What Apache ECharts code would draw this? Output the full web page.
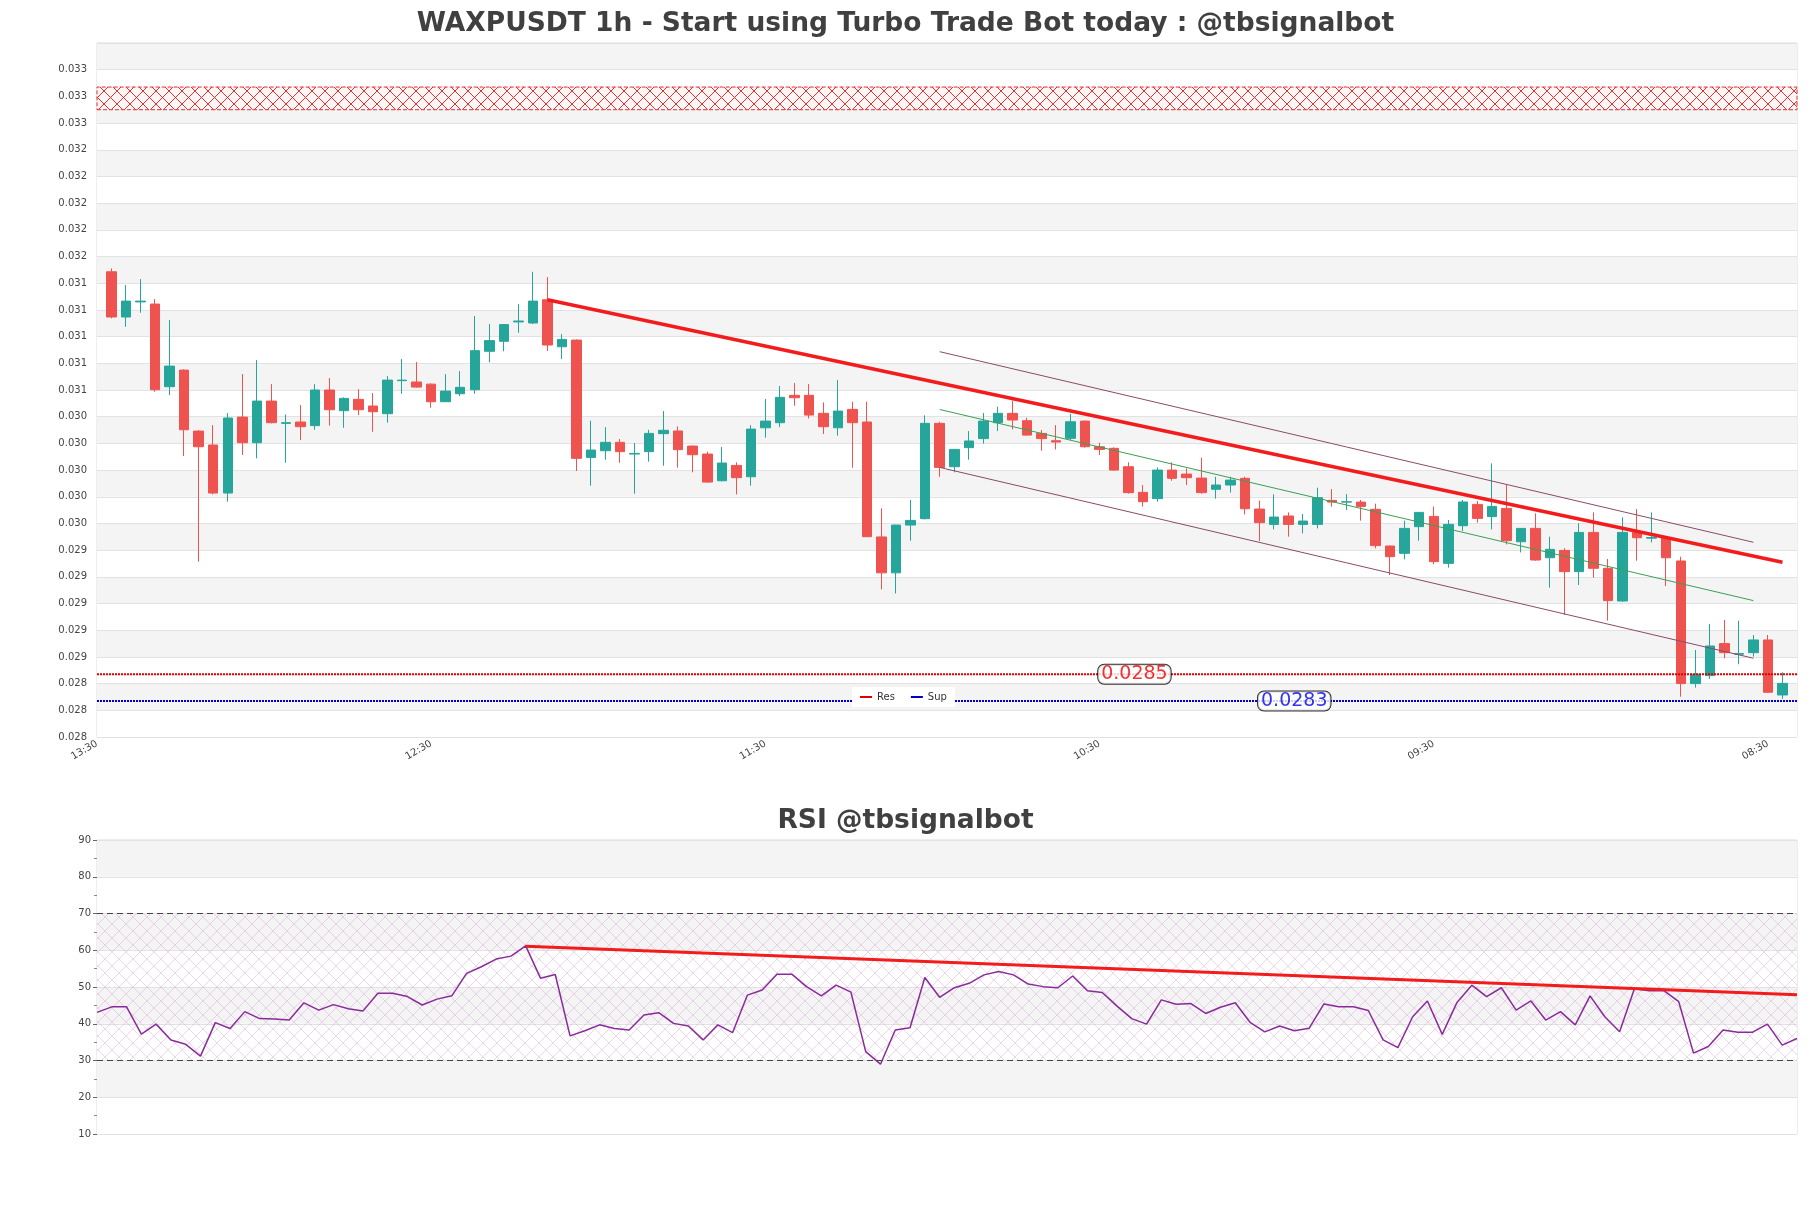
<!DOCTYPE html>
<html>
<head>
<meta charset="utf-8">
<script src="https://cdn.jsdelivr.net/npm/echarts@6/dist/echarts.min.js"></script>
<style>
html,body{margin:0;padding:0;background:#fff;}
#chart{width:1811px;height:1208px;}
</style>
</head>
<body>
<div id="chart"></div>
<script>
const mainTitle = 'WAXPUSDT 1h - Start using Turbo Trade Bot today : @tbsignalbot';
const rsiTitle = 'RSI @tbsignalbot';
const timeLabels = ['13:30', '12:30', '11:30', '10:30', '09:30', '08:30'];
const labelEvery = 23;

const opens = [0.031486,0.031147,0.031260,0.031244,0.030625,0.030749,0.030292,0.030188,0.029828,0.030397,
0.030205,0.030517,0.030350,0.030360,0.030333,0.030600,0.030445,0.030530,0.030480,0.030422,
0.030670,0.030660,0.030644,0.030512,0.030572,0.030602,0.030890,0.030965,0.031110,0.031102,
0.031276,0.030924,0.030974,0.030095,0.030145,0.030208,0.030120,0.030138,0.030273,0.030293,
0.030180,0.030120,0.029920,0.030035,0.029950,0.030317,0.030355,0.030560,0.030560,0.030425,
0.030317,0.030455,0.030360,0.029499,0.029230,0.029588,0.029636,0.030350,0.030025,0.030168,
0.030236,0.030355,0.030425,0.030370,0.030275,0.030220,0.030238,0.030367,0.030175,0.030163,
0.030025,0.029833,0.029786,0.030000,0.029970,0.029940,0.029856,0.029888,0.029938,0.029708,
0.029593,0.029656,0.029593,0.029593,0.029773,0.029760,0.029760,0.029706,0.029431,0.029376,
0.029576,0.029653,0.029301,0.029583,0.029743,0.029651,0.029713,0.029463,0.029563,0.029343,
0.029398,0.029239,0.029533,0.029264,0.029019,0.029533,0.029490,0.029493,0.029319,0.028400,
0.028460,0.028700,0.028620,0.028632,0.028727,0.028315];
const highs = [0.031511,0.031386,0.031431,0.031281,0.031124,0.030755,0.030300,0.030337,0.030427,0.030719,
0.030824,0.030644,0.030417,0.030487,0.030644,0.030690,0.030545,0.030607,0.030577,0.030704,
0.030832,0.030809,0.030650,0.030719,0.030742,0.031154,0.031094,0.031094,0.031244,0.031486,
0.031446,0.031019,0.030979,0.030370,0.030322,0.030233,0.030203,0.030302,0.030442,0.030327,
0.030185,0.030138,0.030173,0.030058,0.030337,0.030532,0.030630,0.030652,0.030644,0.030507,
0.030674,0.030512,0.030512,0.029713,0.029590,0.029776,0.030410,0.030362,0.030155,0.030292,
0.030427,0.030475,0.030520,0.030392,0.030300,0.030337,0.030422,0.030370,0.030205,0.030170,
0.030058,0.029888,0.030020,0.030058,0.030013,0.030093,0.029950,0.029950,0.029950,0.029771,
0.029818,0.029683,0.029671,0.029868,0.029858,0.029820,0.029776,0.029748,0.029435,0.029621,
0.029686,0.029726,0.029626,0.029776,0.029768,0.030050,0.029893,0.029565,0.029676,0.029501,
0.029414,0.029601,0.029683,0.029334,0.029646,0.029708,0.029683,0.029501,0.029351,0.028652,
0.028847,0.028877,0.028872,0.028764,0.028764,0.028485];
const lows = [0.031137,0.031074,0.031179,0.030587,0.030562,0.030105,0.029314,0.029818,0.029763,0.030113,
0.030088,0.030350,0.030055,0.030225,0.030302,0.030333,0.030317,0.030412,0.030287,0.030355,
0.030572,0.030617,0.030467,0.030510,0.030554,0.030572,0.030807,0.030890,0.031029,0.031094,
0.030892,0.030832,0.029993,0.029883,0.030078,0.030055,0.029823,0.030063,0.030033,0.030018,
0.029983,0.029905,0.029915,0.029818,0.029883,0.030243,0.030322,0.030482,0.030387,0.030270,
0.030258,0.030018,0.029498,0.029106,0.029076,0.029471,0.029630,0.029950,0.029983,0.030078,
0.030198,0.030292,0.030305,0.030258,0.030145,0.030155,0.030225,0.030168,0.030113,0.029995,
0.029823,0.029726,0.029763,0.029920,0.029888,0.029823,0.029786,0.029831,0.029668,0.029469,
0.029556,0.029501,0.029526,0.029563,0.029726,0.029700,0.029621,0.029414,0.029213,0.029331,
0.029471,0.029294,0.029269,0.029543,0.029606,0.029556,0.029443,0.029383,0.029321,0.029119,
0.028914,0.029139,0.029194,0.028872,0.029014,0.029321,0.029458,0.029131,0.028302,0.028370,
0.028435,0.028590,0.028545,0.028602,0.028330,0.028285];
const closes = [0.031147,0.031266,0.031266,0.030602,0.030779,0.030302,0.030175,0.029828,0.030390,0.030205,
0.030517,0.030355,0.030355,0.030325,0.030600,0.030452,0.030537,0.030452,0.030437,0.030674,
0.030674,0.030622,0.030512,0.030592,0.030620,0.030895,0.030970,0.031090,0.031117,0.031266,
0.030937,0.030979,0.030088,0.030150,0.030208,0.030138,0.030125,0.030275,0.030298,0.030153,
0.030115,0.029910,0.030053,0.029943,0.030307,0.030367,0.030545,0.030542,0.030412,0.030325,
0.030442,0.030355,0.029501,0.029230,0.029588,0.029623,0.030350,0.030020,0.030155,0.030218,
0.030367,0.030425,0.030375,0.030262,0.030236,0.030210,0.030362,0.030175,0.030155,0.030000,
0.029831,0.029763,0.030000,0.029938,0.029943,0.029831,0.029888,0.029925,0.029710,0.029606,
0.029648,0.029593,0.029618,0.029793,0.029760,0.029763,0.029728,0.029434,0.029351,0.029563,
0.029683,0.029314,0.029593,0.029761,0.029638,0.029728,0.029471,0.029563,0.029326,0.029406,
0.029239,0.029533,0.029264,0.029022,0.029533,0.029493,0.029495,0.029343,0.028400,0.028470,
0.028682,0.028632,0.028625,0.028727,0.028335,0.028402];

const rsiValues = [43.1,44.6,44.6,37.2,39.9,35.6,34.4,31.2,40.3,38.7,
43.3,41.4,41.3,41.0,45.7,43.7,45.2,44.1,43.5,48.3,
48.3,47.4,45.1,46.7,47.6,53.7,55.5,57.6,58.4,61.2,
52.4,53.4,36.7,38.1,39.7,38.7,38.3,42.4,43.0,40.1,
39.4,35.6,39.7,37.6,47.8,49.2,53.5,53.5,50.1,47.6,
50.5,48.6,32.4,29.0,38.3,38.9,52.6,47.2,49.8,51.0,
53.3,54.2,53.3,50.8,50.1,49.8,53.0,49.0,48.5,44.8,
41.4,39.9,46.5,45.3,45.5,42.8,44.5,45.7,40.4,37.8,
39.4,38.1,38.8,45.4,44.6,44.6,43.6,35.6,33.5,41.9,
46.2,37.1,45.8,50.5,47.4,49.8,43.7,46.2,41.0,43.3,
39.7,47.6,41.9,37.8,49.5,49.0,49.0,46.0,32.0,33.8,
38.3,37.7,37.7,39.9,34.2,36.0];

const resLevel = 0.02847;
const supLevel = 0.02827;
const resLabelAt = 70.4;   // candle index where the level tag sits
const supLabelAt = 81.4;
const zoneLow = 0.03270, zoneHigh = 0.03287;
const priceTrend = [[30, 0.031276], [115, 0.029309]];
const channelUpper = [[57, 0.030887], [113, 0.029459]];
const channelMid = [[57, 0.030454], [113, 0.029022]];
const channelLower = [[57, 0.030020], [113, 0.028590]];
const rsiTrend = [[29, 61.1], [115, 47.9]];
const rsiHigh = 70, rsiLow = 30;

const xPad = 1;
const n = opens.length;
const px = i => i + xPad;

function hatch(color, size, lw, bg) {
  const c = document.createElement('canvas');
  c.width = size; c.height = size;
  const g = c.getContext('2d');
  if (bg) { g.fillStyle = bg; g.fillRect(0, 0, size, size); }
  g.strokeStyle = color; g.lineWidth = lw;
  g.beginPath();
  g.moveTo(0, 0); g.lineTo(size, size);
  g.moveTo(size, 0); g.lineTo(0, size);
  g.stroke();
  return c;
}
const zonePattern = hatch('rgba(225,30,30,0.9)', 13, 1, 'rgba(255,245,245,1)');
const rsiPattern = hatch('rgba(200,140,200,0.35)', 14, 1, null);

const candleData = opens.map((o, i) => [px(i), o, closes[i], lows[i], highs[i]]);
const seg = arr => arr.map(p => [px(p[0]), p[1]]);

const chart = echarts.init(document.getElementById('chart'));
const font = 'DejaVu Sans';
const option = {
  animation: false,
  backgroundColor: '#ffffff',
  textStyle: { fontFamily: font },
  title: [
    { text: mainTitle, left: 'center', top: 6,
      textStyle: { fontFamily: font, fontWeight: 'bold', fontSize: 26.5, color: '#404040' } },
    { text: rsiTitle, left: 'center', top: 803,
      textStyle: { fontFamily: font, fontWeight: 'bold', fontSize: 26.5, color: '#404040' } }
  ],
  legend: {
    data: ['Res', 'Sup'], left: 852, top: 687, backgroundColor: '#ffffff',
    padding: [5, 8], icon: 'rect', itemWidth: 12, itemHeight: 2, itemGap: 16,
    textStyle: { fontSize: 10, color: '#333' }
  },
  grid: [
    { left: 97, right: 14, top: 43, height: 694, show: true, borderColor: '#dcdcdc', borderWidth: 1 },
    { left: 97, right: 14, top: 840, height: 294, show: true, borderColor: '#dcdcdc', borderWidth: 1 }
  ],
  xAxis: [
    { type: 'value', gridIndex: 0, min: 0, max: n + 1, interval: labelEvery,
      axisLine: { show: false }, axisTick: { show: false }, splitLine: { show: false },
      axisLabel: { rotate: 30, fontSize: 10, color: '#444', margin: 6,
        formatter: v => { const k = Math.round(v / labelEvery); return (Math.abs(v - k * labelEvery) < 1e-6 && timeLabels[k]) ? timeLabels[k] : ''; } } },
    { type: 'value', gridIndex: 1, min: 0, max: n - 1, show: false }
  ],
  yAxis: [
    { type: 'value', gridIndex: 0, min: 0.028, max: 0.0332, interval: 0.0002, scale: true,
      axisLine: { show: false }, axisTick: { show: false },
      axisLabel: { fontSize: 10, color: '#444', margin: 10,
        formatter: v => v > 0.03315 ? '' : v.toFixed(3) },
      splitLine: { lineStyle: { color: '#e2e2e2' } },
      splitArea: { show: true, areaStyle: { color: ['#ffffff', '#f4f4f4'] } } },
    { type: 'value', gridIndex: 1, min: 10, max: 90, interval: 10,
      axisLine: { show: false },
      axisTick: { show: true, length: 4, lineStyle: { color: '#666' } },
      minorTick: { show: true, splitNumber: 2, length: 3, lineStyle: { color: '#888' } },
      axisLabel: { fontSize: 10, color: '#444', margin: 6 },
      splitLine: { lineStyle: { color: '#e2e2e2' } },
      splitArea: { show: true, areaStyle: { color: ['#ffffff', '#f4f4f4'] } } }
  ],
  series: [
    { type: 'candlestick', name: 'price', xAxisIndex: 0, yAxisIndex: 0, data: candleData,
      barWidth: 10,
      itemStyle: { color: '#26a69a', color0: '#ef5350', borderColor: '#26a69a', borderColor0: '#ef5350', borderWidth: 1 },
      markArea: { silent: true,
        itemStyle: { color: { image: zonePattern, repeat: 'repeat' }, borderColor: '#e53030', borderWidth: 1, borderType: 'dashed' },
        data: [[{ yAxis: zoneLow }, { yAxis: zoneHigh }]] } },
    { type: 'line', name: 'trend', xAxisIndex: 0, yAxisIndex: 0, data: seg(priceTrend), symbol: 'none',
      lineStyle: { color: '#f21c1c', width: 3.5 }, z: 5 },
    { type: 'line', name: 'upper', xAxisIndex: 0, yAxisIndex: 0, data: seg(channelUpper), symbol: 'none',
      lineStyle: { color: '#8c4a6a', width: 1 }, z: 4 },
    { type: 'line', name: 'mid', xAxisIndex: 0, yAxisIndex: 0, data: seg(channelMid), symbol: 'none',
      lineStyle: { color: '#3aa055', width: 1 }, z: 4 },
    { type: 'line', name: 'lower', xAxisIndex: 0, yAxisIndex: 0, data: seg(channelLower), symbol: 'none',
      lineStyle: { color: '#8c4a6a', width: 1 }, z: 4 },
    { type: 'line', name: 'Res', xAxisIndex: 0, yAxisIndex: 0, data: [[0, resLevel], [n + 1, resLevel]], symbol: 'none',
      color: '#e00000', lineStyle: { color: '#e00000', width: 2, type: [2, 1] }, z: 3 },
    { type: 'line', name: 'Sup', xAxisIndex: 0, yAxisIndex: 0, data: [[0, supLevel], [n + 1, supLevel]], symbol: 'none',
      color: '#0000cc', lineStyle: { color: '#0000cc', width: 2, type: [2, 1] }, z: 3 },
    { type: 'scatter', name: 'levelTags', xAxisIndex: 0, yAxisIndex: 0, symbolSize: 1,
      itemStyle: { color: 'rgba(0,0,0,0)' }, z: 10,
      label: { show: true, position: 'inside', fontSize: 19, backgroundColor: '#ffffff', borderColor: '#000', borderWidth: 1,
        borderRadius: 6, padding: [0, 3, 0, 3], formatter: p => p.value[1].toFixed(4) },
      data: [
        { value: [px(resLabelAt), resLevel], label: { color: '#ee0000' } },
        { value: [px(supLabelAt), supLevel], label: { color: '#0000ee' } }
      ] },
    { type: 'line', name: 'RSI', xAxisIndex: 1, yAxisIndex: 1, data: rsiValues.map((v, i) => [i, v]), symbol: 'none',
      lineStyle: { color: '#8a2a9b', width: 1.5 }, z: 4,
      markArea: { silent: true, itemStyle: { color: { image: rsiPattern, repeat: 'repeat' } },
        data: [[{ yAxis: rsiLow }, { yAxis: rsiHigh }]] },
      markLine: { silent: true, symbol: 'none', label: { show: false },
        lineStyle: { color: '#444', type: [6, 4], width: 1.2 },
        data: [{ yAxis: rsiHigh }, { yAxis: rsiLow }] } },
    { type: 'line', name: 'rsiTrend', xAxisIndex: 1, yAxisIndex: 1, data: rsiTrend, symbol: 'none',
      lineStyle: { color: '#f21c1c', width: 3 }, z: 5 }
  ]
};
chart.setOption(option);
</script>
</body>
</html>
